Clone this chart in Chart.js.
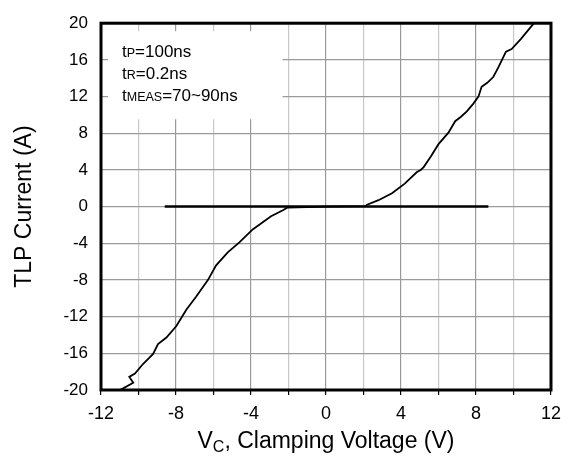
<!DOCTYPE html>
<html>
<head>
<meta charset="utf-8">
<script src="https://cdn.jsdelivr.net/npm/chart.js@4/dist/chart.umd.min.js"></script>
<style>
  body { margin: 0; background: #fff; }
  #wrap { width: 569px; height: 468px; }
</style>
</head>
<body>
<div id="wrap"><canvas id="tlpChart" width="569" height="468"></canvas></div>
<script>
// TLP I-V curve (V, A)
const vCurve = [-11.0, -10.82, -10.28, -10.49, -10.19, -9.75, -9.22, -8.96, -8.51, -7.98,
  -7.45, -6.92, -6.3, -5.86, -5.24, -4.62, -3.91, -2.93, -2.3, -2.05,
  0, 2.1, 2.19, 2.8, 3.52, 4.2, 4.85, 5.05, 5.21, 5.6, 6.0, 6.53, 6.89, 7.2,
  7.51, 7.85, 8.13, 8.21, 8.3, 8.6, 8.92, 9.2, 9.45, 9.6, 9.9, 10.4, 10.96, 11.1];
const iCurve = [-20, -19.82, -19.21, -18.57, -18.21, -17.14, -16.07, -15.0, -14.28, -13.03,
  -11.24, -9.81, -8.02, -6.41, -4.99, -3.91, -2.49, -1.05, -0.4, -0.1,
  0, 0.05, 0.2, 0.7, 1.45, 2.5, 3.77, 4.0, 4.31, 5.5, 6.81, 8.06, 9.31, 9.8,
  10.38, 11.2, 11.99, 12.5, 13.06, 13.5, 14.13, 15.2, 16.28, 16.9, 17.18, 18.3, 19.68, 20];

// leakage trace along zero
const vFlat = [-8.6, 8.66];
const iFlat = [0, 0];

const xTicks = [-12, -8, -4, 0, 4, 8, 12];
const yTicks = [-20, -16, -12, -8, -4, 0, 4, 8, 12, 16, 20];

const notes = [
  ['t', 'P', '=100ns'],
  ['t', 'R', '=0.2ns'],
  ['t', 'MEAS', '=70~90ns'],
];

const FONT = "'Liberation Sans', Arial, sans-serif";

const toPts = (xs, ys) => xs.map((x, i) => ({ x: x, y: ys[i] }));

const framePlugin = {
  id: 'frame',
  beforeDatasetsDraw(chart) {
    const { ctx, chartArea } = chart;
    const xs = chart.scales.x;
    // white box behind the test conditions
    ctx.save();
    ctx.fillStyle = '#fff';
    ctx.fillRect(chartArea.left + 7, chartArea.top + 8,
      xs.getPixelForValue(-2) - 6 - (chartArea.left + 7), 88);
    ctx.fillStyle = '#000';
    notes.forEach((n, k) => {
      let x = chartArea.left + 21;
      const y = chartArea.top + 34 + k * 22;
      ctx.textBaseline = 'alphabetic';
      ctx.font = '17px ' + FONT;
      ctx.fillText(n[0], x, y);
      x += ctx.measureText(n[0]).width;
      ctx.font = '12.5px ' + FONT;
      ctx.fillText(n[1], x, y);
      x += ctx.measureText(n[1]).width;
      ctx.font = '17px ' + FONT;
      ctx.fillText(n[2], x, y);
    });
    ctx.restore();
  },
  afterDatasetsDraw(chart) {
    const { ctx, chartArea } = chart;
    ctx.save();
    ctx.strokeStyle = '#000';
    ctx.lineWidth = 3;
    ctx.strokeRect(chartArea.left, chartArea.top,
      chartArea.right - chartArea.left, chartArea.bottom - chartArea.top);
    // x axis title with subscript
    const cx = (chartArea.left + chartArea.right) / 2;
    const y = chartArea.bottom + 58;
    const parts = [['V', 23, 0], ['C', 16, 4], [', Clamping Voltage (V)', 23, 0]];
    let w = 0;
    parts.forEach((p) => {
      ctx.font = p[1] + 'px ' + FONT;
      w += ctx.measureText(p[0]).width;
    });
    let x = cx - w / 2;
    ctx.fillStyle = '#000';
    ctx.textBaseline = 'alphabetic';
    parts.forEach((p) => {
      ctx.font = p[1] + 'px ' + FONT;
      ctx.fillText(p[0], x, y + p[2]);
      x += ctx.measureText(p[0]).width;
    });
    ctx.restore();
  },
};

new Chart(document.getElementById('tlpChart'), {
  type: 'scatter',
  data: {
    datasets: [
      {
        data: toPts(vFlat, iFlat),
        showLine: true,
        borderColor: '#000',
        borderWidth: 2.5,
        pointRadius: 0,
      },
      {
        data: toPts(vCurve, iCurve),
        showLine: true,
        borderColor: '#000',
        borderWidth: 1.8,
        pointRadius: 0,
      },
    ],
  },
  options: {
    responsive: false,
    animation: false,
    layout: { padding: { top: 17, right: 16, left: 0, bottom: 0 } },
    plugins: {
      legend: { display: false },
      tooltip: { enabled: false },
    },
    scales: {
      x: {
        min: -12,
        max: 12,
        afterFit: (s) => { s.height = 78; },
        afterBuildTicks: (s) => {
          const t = [];
          for (let v = -12; v <= 12; v += 2) t.push({ value: v });
          s.ticks = t;
        },
        ticks: {
          autoSkip: false,
          maxRotation: 0,
          padding: 8,
          color: '#000',
          font: { family: FONT, size: 18 },
          callback: (v) => (xTicks.includes(v) ? String(v) : ''),
        },
        grid: {
          color: (c) => (c.tick && c.tick.value % 4 === 0 ? '#9a9a9a' : '#c8c8c8'),
          tickColor: '#000',
          tickLength: 5,
          lineWidth: 1.2,
        },
        border: { display: false },
      },
      y: {
        min: -20,
        max: 20,
        afterFit: (s) => { s.width = 101; },
        afterBuildTicks: (s) => { s.ticks = yTicks.map((v) => ({ value: v })); },
        ticks: {
          padding: 13,
          color: '#000',
          font: { family: FONT, size: 17 },
        },
        grid: {
          color: '#9a9a9a',
          drawTicks: false,
          lineWidth: 1.2,
        },
        border: { display: false },
        title: {
          display: true,
          text: 'TLP Current (A)',
          color: '#000',
          font: { family: FONT, size: 23 },
          padding: { top: 11, bottom: 0 },
        },
      },
    },
  },
  plugins: [framePlugin],
});
</script>
</body>
</html>
